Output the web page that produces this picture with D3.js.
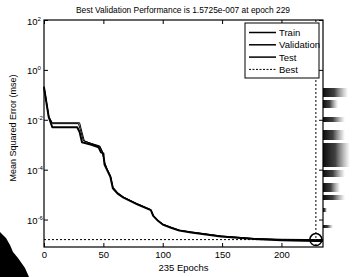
<!DOCTYPE html>
<html>
<head>
<meta charset="utf-8">
<script src="https://cdn.jsdelivr.net/npm/d3@7"></script>
<style>
  body { margin: 0; background: #fff; }
  svg { display: block; font-family: "Liberation Sans", Arial, sans-serif; }
  .axis-box { fill: none; stroke: #000; stroke-width: 1.2; }
  .curve { fill: none; stroke: #000; stroke-linejoin: round; }
</style>
</head>
<body>
<svg id="chart"></svg>
<script>
const trainEpochs = [0, 2, 4, 7, 28, 30, 32, 40, 46, 48, 50, 51, 53, 56, 58, 62, 67, 79, 90, 92, 96, 100, 107, 114, 124, 149, 177, 200, 229, 235];
const trainMse = [2.0e-1, 5.0e-2, 1.26e-2, 5.0e-3, 5.0e-3, 3.2e-3, 1.26e-3, 1.0e-3, 7.9e-4, 5.0e-4, 4.5e-4, 1.6e-4, 1.0e-4, 5.0e-5, 1.8e-5, 1.1e-5, 7.6e-6, 4.0e-6, 2.4e-6, 1.4e-6, 8.9e-7, 6.3e-7, 4.7e-7, 3.6e-7, 3.0e-7, 2.1e-7, 1.66e-7, 1.48e-7, 1.38e-7, 1.38e-7];

const valEpochs = [0, 2, 4, 7, 30, 32, 34, 40, 47, 49, 51, 53, 56, 58, 62, 67, 79, 90, 92, 96, 100, 107, 114, 124, 149, 177, 200, 229, 235];
const valMse = [2.2e-1, 5.6e-2, 1.4e-2, 7.6e-3, 7.6e-3, 3.2e-3, 1.4e-3, 1.12e-3, 8.9e-4, 5.6e-4, 2.0e-4, 1.12e-4, 5.6e-5, 2.0e-5, 1.2e-5, 7.9e-6, 4.2e-6, 2.5e-6, 1.48e-6, 9.3e-7, 6.6e-7, 4.9e-7, 3.8e-7, 3.2e-7, 2.2e-7, 1.74e-7, 1.62e-7, 1.5725e-7, 1.58e-7];

const testEpochs = [0, 2, 4, 7, 29, 31, 33, 40, 47, 49, 51, 53, 56, 58, 62, 67, 79, 90, 92, 96, 100, 107, 114, 124, 149, 177, 200, 229, 235];
const testMse = [2.1e-1, 5.3e-2, 1.3e-2, 7.0e-3, 7.0e-3, 3.5e-3, 1.5e-3, 1.1e-3, 8.5e-4, 5.4e-4, 1.9e-4, 1.08e-4, 5.4e-5, 1.9e-5, 1.15e-5, 7.8e-6, 4.1e-6, 2.45e-6, 1.45e-6, 9.1e-7, 6.5e-7, 4.8e-7, 3.7e-7, 3.1e-7, 2.15e-7, 1.7e-7, 1.55e-7, 1.5e-7, 1.5e-7];

const bestEpoch = 229;
const bestPerf = 1.5725e-7;
const totalEpochs = 235;

const xTicks = [0, 50, 100, 150, 200];
const yTickExponents = [2, 0, -2, -4, -6];
const legendLabels = ["Train", "Validation", "Test", "Best"];

const titleText = "Best Validation Performance is 1.5725e-007 at epoch 229";
const xLabelText = "235 Epochs";
const yLabelText = "Mean Squared Error  (mse)";

// --- layout
const width = 357, height = 277;
const margin = { top: 20, right: 34, bottom: 30, left: 44 };
const innerW = width - margin.left - margin.right;
const innerH = height - margin.top - margin.bottom;

const svg = d3.select("#chart").attr("width", width).attr("height", height);
const g = svg.append("g").attr("transform", `translate(${margin.left},${margin.top})`);

const x = d3.scaleLinear().domain([0, totalEpochs]).range([0, innerW]);
const y = d3.scaleLog().domain([Math.pow(10, -7.1), 100]).range([innerH, 0]);

const line = d3.line().x(d => x(d[0])).y(d => y(d[1]));
const zipSeries = (ex, ms) => ex.map((e, i) => [e, ms[i]]);

// curves
g.append("path").attr("class", "curve").attr("stroke-width", 1)
  .attr("d", line(zipSeries(valEpochs, valMse)));
g.append("path").attr("class", "curve").attr("stroke-width", 1)
  .attr("d", line(zipSeries(testEpochs, testMse)));
g.append("path").attr("class", "curve").attr("stroke-width", 2)
  .attr("d", line(zipSeries(trainEpochs, trainMse)));

// best markers
g.append("line")
  .attr("x1", 0).attr("x2", innerW)
  .attr("y1", y(bestPerf)).attr("y2", y(bestPerf))
  .attr("stroke", "#000").attr("stroke-width", 1).attr("stroke-dasharray", "2,2");
g.append("line")
  .attr("x1", x(bestEpoch)).attr("x2", x(bestEpoch))
  .attr("y1", 0).attr("y2", innerH)
  .attr("stroke", "#000").attr("stroke-width", 1).attr("stroke-dasharray", "2,2");
g.append("circle")
  .attr("cx", x(bestEpoch)).attr("cy", y(bestPerf)).attr("r", 6)
  .attr("fill", "none").attr("stroke", "#000").attr("stroke-width", 1.5);

// axes (MATLAB style, ticks inside, mirrored)
const xAxis = g.append("g").attr("transform", `translate(0,${innerH})`)
  .call(d3.axisBottom(x).tickValues(xTicks).tickSizeInner(-4).tickSizeOuter(0).tickPadding(4));
g.append("g")
  .call(d3.axisTop(x).tickValues(xTicks).tickSizeInner(-4).tickSizeOuter(0).tickFormat(""));

const yTickVals = yTickExponents.map(e => Math.pow(10, e));
const yAxis = g.append("g")
  .call(d3.axisLeft(y).tickValues(yTickVals).tickSizeInner(-4).tickSizeOuter(0).tickFormat(""));
g.append("g").attr("transform", `translate(${innerW},0)`)
  .call(d3.axisRight(y).tickValues(yTickVals).tickSizeInner(-4).tickSizeOuter(0).tickFormat(""));

g.selectAll(".domain").remove();
g.selectAll(".tick line").attr("stroke", "#000");
xAxis.selectAll(".tick text").attr("font-size", 9.5).attr("fill", "#000")
  .attr("font-family", "'Liberation Sans', Arial, sans-serif");

// y tick labels: 10 with superscript exponent
yAxis.selectAll(".tick").each(function(d, i) {
  const t = d3.select(this).append("text")
    .attr("x", -17).attr("y", 4)
    .attr("fill", "#000").attr("font-size", 9.5)
    .attr("text-anchor", "start")
    .attr("font-family", "'Liberation Sans', Arial, sans-serif");
  t.append("tspan").text("10");
  t.append("tspan").attr("dy", -4).attr("font-size", 6).text(yTickExponents[i]);
});

g.append("rect").attr("class", "axis-box").attr("width", innerW).attr("height", innerH);

// legend
const legend = g.append("g").attr("transform", `translate(${innerW - 78},3)`);
legend.append("rect").attr("width", 74).attr("height", 55)
  .attr("fill", "#fff").attr("stroke", "#000").attr("stroke-width", 1);
legendLabels.forEach((lab, i) => {
  const ly = 9.5 + i * 12.3;
  legend.append("line").attr("x1", 4).attr("x2", 31).attr("y1", ly).attr("y2", ly)
    .attr("stroke", "#000")
    .attr("stroke-width", lab === "Best" ? 1 : 1.5)
    .attr("stroke-dasharray", lab === "Best" ? "2,1.5" : null);
  legend.append("text").attr("x", 34).attr("y", ly + 3.5)
    .attr("font-size", 9.5).attr("fill", "#000").text(lab);
});

// title and labels
svg.append("text").attr("x", 183).attr("y", 13).attr("text-anchor", "middle")
  .attr("font-size", 9).attr("fill", "#000")
  .attr("textLength", 214).attr("lengthAdjust", "spacingAndGlyphs")
  .text(titleText);
svg.append("text").attr("x", margin.left + innerW / 2).attr("y", 271)
  .attr("text-anchor", "middle").attr("font-size", 9.5).attr("fill", "#000")
  .text(xLabelText);
svg.append("text").attr("transform", `translate(16,128) rotate(-90)`)
  .attr("text-anchor", "middle").attr("font-size", 9).attr("fill", "#000")
  .text(yLabelText);

// scan artefacts seen in the picture: smudges right of the axes, dark corner
const defs = svg.append("defs");
const grad = defs.append("linearGradient").attr("id", "smudge");
grad.append("stop").attr("offset", "0%").attr("stop-color", "#000").attr("stop-opacity", 0.95);
grad.append("stop").attr("offset", "45%").attr("stop-color", "#111").attr("stop-opacity", 0.8);
grad.append("stop").attr("offset", "100%").attr("stop-color", "#555").attr("stop-opacity", 0);

const smudgeBands = [[88, 97, 25], [100, 108, 15], [117, 122, 22], [130, 140, 22], [143, 167, 27], [170, 177, 22], [183, 192, 17], [195, 200, 22], [208, 212, 4], [225, 228, 10]];
const art = svg.append("g").attr("transform", `translate(${margin.left + innerW},0)`);
smudgeBands.forEach(([y0, y1, w]) => {
  art.append("rect").attr("x", 0).attr("y", y0).attr("width", w).attr("height", y1 - y0)
    .attr("fill", "url(#smudge)");
});
svg.append("path")
  .attr("d", "M0,232 L6,238 L10,245 L13,252 L18,258 L25,268 L29,277 L0,277 Z")
  .attr("fill", "#000");
</script>
</body>
</html>
